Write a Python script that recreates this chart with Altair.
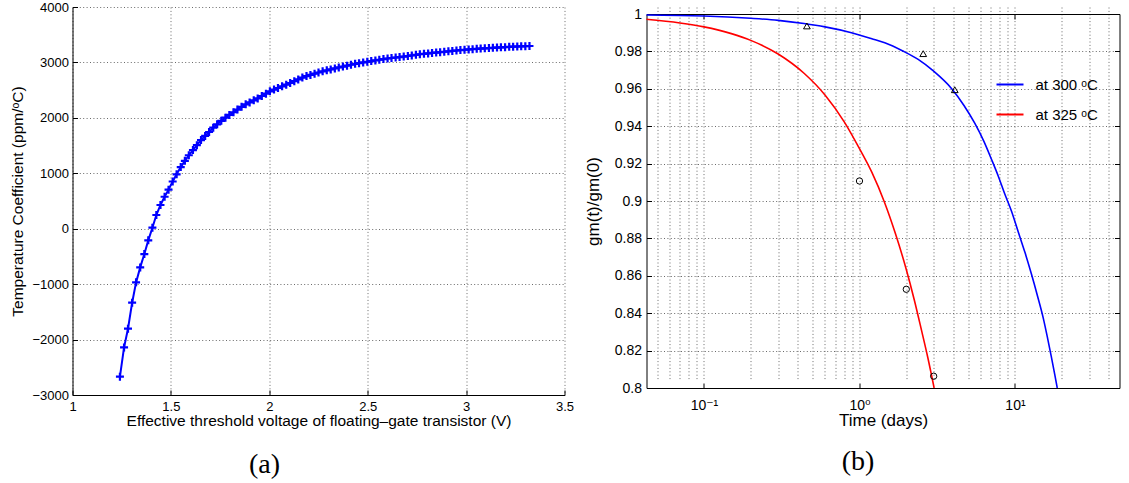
import altair as alt
import pandas as pd

FONT = "Liberation Sans, Arial, DejaVu Sans"
SERIF = "Liberation Serif, Times New Roman, serif"

# ---------------- Panel (a) ----------------
vth = [1.241, 1.262, 1.282, 1.303, 1.323, 1.344, 1.365, 1.385, 1.406, 1.426,
       1.447, 1.468, 1.488, 1.509, 1.529, 1.550, 1.571, 1.591, 1.612, 1.632,
       1.653, 1.674, 1.694, 1.715, 1.735, 1.756, 1.777, 1.797, 1.818, 1.838,
       1.859, 1.880, 1.900, 1.921, 1.941, 1.962, 1.983, 2.003, 2.024, 2.044,
       2.065, 2.086, 2.106, 2.127, 2.147, 2.168, 2.189, 2.209, 2.230, 2.250,
       2.271, 2.292, 2.312, 2.333, 2.353, 2.374, 2.395, 2.415, 2.436, 2.456,
       2.477, 2.498, 2.518, 2.539, 2.559, 2.580, 2.601, 2.621, 2.642, 2.662,
       2.683, 2.704, 2.724, 2.745, 2.765, 2.786, 2.807, 2.827, 2.848, 2.868,
       2.889, 2.910, 2.930, 2.951, 2.971, 2.992, 3.013, 3.033, 3.054, 3.074,
       3.095, 3.116, 3.136, 3.157, 3.177, 3.198, 3.219, 3.239, 3.260, 3.280,
       3.301, 3.322]
tc = [-2670, -2141, -1804, -1335, -968, -698, -457, -210, 18, 247,
      428, 577, 705, 852, 981, 1112, 1224, 1325, 1418, 1507,
      1600, 1674, 1745, 1822, 1884, 1946, 2004, 2052, 2101, 2149,
      2199, 2244, 2279, 2316, 2351, 2394, 2437, 2478, 2511, 2539,
      2569, 2599, 2629, 2662, 2693, 2726, 2754, 2775, 2797, 2818,
      2839, 2857, 2874, 2892, 2909, 2925, 2941, 2958, 2974, 2986,
      3000, 3012, 3025, 3037, 3048, 3060, 3071, 3080, 3089, 3097,
      3106, 3116, 3127, 3138, 3148, 3156, 3163, 3171, 3178, 3185,
      3193, 3200, 3208, 3215, 3222, 3229, 3234, 3240, 3245, 3250,
      3255, 3259, 3263, 3268, 3272, 3276, 3281, 3284, 3287, 3290,
      3293, 3296]
x_ticks_a = [1, 1.5, 2, 2.5, 3, 3.5]
y_ticks_a = [-3000, -2000, -1000, 0, 1000, 2000, 3000, 4000]

# ---------------- Panel (b) ----------------
lab300 = "at 300 \u1d52C"
lab325 = "at 325 \u1d52C"
t_300 = [0.042, 0.07, 0.1, 0.2, 0.3, 0.44, 0.6, 0.888, 1.2, 1.454, 1.9, 2.385,
         3.0, 3.905, 4.7, 5.51, 6.3, 7.06, 7.8, 8.6, 9.5, 10.5, 11.6, 12.77,
         14.0, 15.2, 16.2, 17.1, 18.0, 18.7]
g_300 = [0.9995, 0.9992, 0.9989, 0.9977, 0.9966, 0.9949, 0.9931, 0.9900, 0.9868,
         0.9846, 0.9802, 0.9757, 0.9694, 0.9602, 0.9511, 0.9416, 0.9320, 0.9223,
         0.9134, 0.9037, 0.8945, 0.8834, 0.8724, 0.8608, 0.8488, 0.8374, 0.8267,
         0.8170, 0.8074, 0.8000]
t_325 = [0.042, 0.07, 0.1, 0.15, 0.2, 0.3, 0.44, 0.6, 0.8, 1.0, 1.2, 1.45, 1.7,
         2.0, 2.25, 2.5, 2.75, 3.02]
g_325 = [0.9972, 0.9952, 0.9931, 0.9895, 0.9859, 0.9786, 0.9683, 0.9567, 0.9422,
         0.9280, 0.9154, 0.8992, 0.8827, 0.8634, 0.8472, 0.8312, 0.8163, 0.8000]
t_meas_300 = [0.459, 2.57, 4.1]
g_meas_300 = [0.9936, 0.9788, 0.9595]
t_meas_325 = [1.0, 2.0, 3.0]
g_meas_325 = [0.9107, 0.8528, 0.8063]
x_ticks_b = [0.05, 0.06, 0.07, 0.08, 0.09, 0.1, 0.2, 0.3, 0.4, 0.5, 0.6, 0.7,
             0.8, 0.9, 1, 2, 3, 4, 5, 6, 7, 8, 9, 10, 20, 30, 40]
x_major_b = [0.1, 1, 10]
y_ticks_b = [0.8, 0.82, 0.84, 0.86, 0.88, 0.9, 0.92, 0.94, 0.96, 0.98, 1.0]

GRID = dict(grid=True, gridColor="#6a6a6a", gridDash=[1, 2.4], gridWidth=1, gridOpacity=1)
COMMON = dict(ticks=False, domainColor="black", domainWidth=1, labelColor="black",
              titleColor="black", labelFont=FONT, titleFont=FONT, titleFontWeight="normal")
# inward tick marks (MATLAB style): an extra axis pulled 5 px inside, showing only its ticks
INTICK = dict(labels=False, domain=False, grid=False, title=None, ticks=True, tickSize=5,
              tickColor="black", tickWidth=1, offset=-5)

# ---------- left chart ----------
df_a = pd.DataFrame({"v": vth, "tc": tc})
sx_a = alt.Scale(domain=[1, 3.5], nice=False, zero=False)
sy_a = alt.Scale(domain=[-3000, 4000], nice=False, zero=False)
xa = alt.X("v:Q", scale=sx_a,
           axis=alt.Axis(values=x_ticks_a, format="~g", labelFlush=False, labelOverlap=False,
                         title="Effective threshold voltage of floating\u2013gate transistor (V)",
                         labelFontSize=13, titleFontSize=15.5, labelPadding=5, titlePadding=0,
                         **GRID, **COMMON))
ya = alt.Y("tc:Q", scale=sy_a,
           axis=alt.Axis(values=y_ticks_a, format="d", labelOverlap=False,
                         title="Temperature Coefficient (ppm/\u1d52C)",
                         labelFontSize=13, titleFontSize=15.5, labelPadding=4, titlePadding=6,
                         **GRID, **COMMON))
xa_in = alt.X("v:Q", scale=sx_a, axis=alt.Axis(orient="bottom", values=x_ticks_a, **INTICK))
ya_in = alt.Y("tc:Q", scale=sy_a, axis=alt.Axis(orient="left", values=y_ticks_a, **INTICK))
line_a = alt.Chart(df_a).mark_line(color="#0000ff", strokeWidth=2).encode(x=xa, y=ya)
pts_a = alt.Chart(df_a).mark_point(shape="M-1,0L1,0M0,-1L0,1", filled=False, color="#0000ff",
                                   strokeWidth=2.2, size=64, opacity=1).encode(x=xa_in, y=ya_in)
left = alt.layer(line_a, pts_a).resolve_axis(x="independent", y="independent").properties(
    width=492, height=388,
    view=alt.ViewBackground(stroke="transparent"),
    title=alt.TitleParams("(a)", orient="bottom", anchor="middle", font=SERIF, fontSize=28,
                          fontWeight="normal", color="black", offset=22, dx=-54),
)

# ---------- right chart ----------
# The panel (b) frame starts 7 px lower than panel (a)'s: its view is 381 px tall and the
# y range runs from 381 (0.8) up to 7 (1.0); the frame is drawn by the four axis domains.
lines_df = pd.DataFrame({
    "t": t_300 + t_325,
    "g": g_300 + g_325,
    "series": [lab300] * len(t_300) + [lab325] * len(t_325),
})
tri_df = pd.DataFrame({"t": t_meas_300, "g": g_meas_300})
circ_df = pd.DataFrame({"t": t_meas_325, "g": g_meas_325})

xscale_b = alt.Scale(type="log", domain=[0.0427, 47], nice=False)
yscale_b = alt.Scale(domain=[0.8, 1.0], nice=False, zero=False, range=[381, 7])
yb = alt.Y("g:Q", scale=yscale_b,
           axis=alt.Axis(values=y_ticks_b, format=".2~f", labelOverlap=False, title="gm(t)/gm(0)",
                         labelFontSize=14, titleFontSize=17, labelPadding=5, titlePadding=12,
                         **GRID, **COMMON))
yb_right = alt.Y("g:Q", scale=yscale_b,
                 axis=alt.Axis(orient="right", labels=False, ticks=False, grid=False, title=None,
                               domainColor="black", domainWidth=1))
yb_left_in = alt.Y("g:Q", scale=yscale_b, axis=alt.Axis(orient="left", values=y_ticks_b, **INTICK))
yb_right_in = alt.Y("g:Q", scale=yscale_b, axis=alt.Axis(orient="right", values=y_ticks_b, **INTICK))
label_expr = ("datum.value == 0.1 ? '10\u207b\u00b9' : datum.value == 1 ? '10\u2070' : "
              "datum.value == 10 ? '10\u00b9' : ''")
xb = alt.X("t:Q", scale=xscale_b,
           axis=alt.Axis(values=x_ticks_b, labelExpr=label_expr, labelFlush=False, labelOverlap=False,
                         labelBound=False, title="Time (days)", labelFontSize=14, titleFontSize=17,
                         labelPadding=10, titlePadding=0, **GRID, **COMMON))
xb_top = alt.X("t:Q", scale=xscale_b,
               axis=alt.Axis(orient="top", labels=False, ticks=False, grid=False, title=None,
                             domainColor="black", domainWidth=1, offset=-7))
xb_bottom_in = alt.X("t:Q", scale=xscale_b,
                     axis=alt.Axis(orient="bottom", values=x_major_b, **INTICK))
INTICK_TOP = dict(INTICK)
INTICK_TOP["offset"] = -12
xb_top_in = alt.X("t:Q", scale=xscale_b,
                  axis=alt.Axis(orient="top", values=x_major_b, **INTICK_TOP))

lines_b = alt.Chart(lines_df).mark_line(strokeWidth=1.6, interpolate="monotone", clip=True).encode(
    x=xb, y=yb,
    color=alt.Color("series:N",
                    scale=alt.Scale(domain=[lab300, lab325], range=["#0000ff", "#ff0000"]),
                    legend=alt.Legend(orient="none", legendX=349, legendY=63, title=None,
                                      symbolType="stroke", symbolSize=729, symbolStrokeWidth=2,
                                      labelFontSize=15, labelFont=FONT, labelColor="black",
                                      labelOffset=11, rowPadding=7, padding=0)),
)
tri_b = alt.Chart(tri_df).mark_point(shape="triangle-up", filled=False, color="black", size=45,
                                     strokeWidth=1, opacity=1).encode(x=xb_top, y=yb_right)
circ_b = alt.Chart(circ_df).mark_point(shape="circle", filled=False, color="black", size=40,
                                       strokeWidth=1, opacity=1).encode(x=xb_bottom_in, y=yb_left_in)
tri_b2 = alt.Chart(tri_df).mark_point(shape="triangle-up", filled=False, color="black", size=45,
                                      strokeWidth=1, opacity=0).encode(x=xb_top_in, y=yb_right_in)
right = alt.layer(lines_b, tri_b, circ_b, tri_b2).resolve_axis(
    x="independent", y="independent"
).properties(
    width=473, height=381,
    view=alt.ViewBackground(stroke="transparent"),
    title=alt.TitleParams("(b)", orient="bottom", anchor="middle", font=SERIF, fontSize=28,
                          fontWeight="normal", color="black", offset=20, dx=-25),
)

chart = alt.hconcat(left, right, spacing=9).resolve_legend(color="independent").properties(
    padding={"left": 9.5, "top": 0, "right": 2, "bottom": 2},
    background="white",
)

chart.save("out.html", embed_options={"renderer": "svg", "actions": False})
